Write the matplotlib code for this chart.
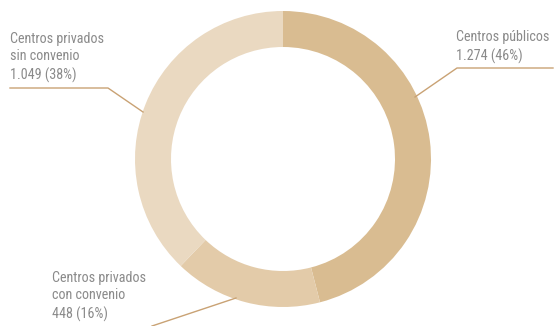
import matplotlib
matplotlib.use("Agg")
import matplotlib.pyplot as plt

labels = ["Centros públicos", "Centros privados\ncon convenio", "Centros privados\nsin convenio"]
values = [1274, 448, 1049]
value_labels = ["1.274 (46%)", "448 (16%)", "1.049 (38%)"]
colors = ["#d9bc91", "#e3cba9", "#ead9c1"]

fam = ["Roboto Condensed", "DejaVu Sans"]

W, H = 555, 326
fig = plt.figure(figsize=(W/100, H/100), dpi=100)
ax = fig.add_axes([0, 0, 1, 1])

cx, cy = 283, H - 159
ax.pie(values, colors=colors, startangle=90, counterclock=False,
       center=(cx, cy), radius=148, wedgeprops=dict(width=36, linewidth=0),
       frame=True)
ax.set_xlim(0, W)
ax.set_ylim(0, H)
ax.set_aspect("equal")
ax.axis("off")

tc = "#8a8a8a"
lc = "#c9a274"
fs = 10.2
def Y(y):
    return H - y

# Publicos
ax.plot([415, 457, 553], [Y(97), Y(68), Y(68)], color=lc, lw=1)
ax.text(456, Y(64), labels[0] + "\n" + value_labels[0], color=tc, fontsize=fs,
        family=fam, ha="left", va="bottom", linespacing=1.35)
# Sin convenio
ax.plot([10, 108, 143], [Y(88), Y(88), Y(112)], color=lc, lw=1)
ax.text(10, Y(83), labels[2] + "\n" + value_labels[2], color=tc, fontsize=fs,
        family=fam, ha="left", va="bottom", linespacing=1.35)
# Con convenio
ax.plot([236, 152], [Y(298), Y(326)], color=lc, lw=1)
ax.text(52, Y(322), labels[1] + "\n" + value_labels[1], color=tc, fontsize=fs,
        family=fam, ha="left", va="bottom", linespacing=1.35)

fig.savefig("out.png", dpi=100)
